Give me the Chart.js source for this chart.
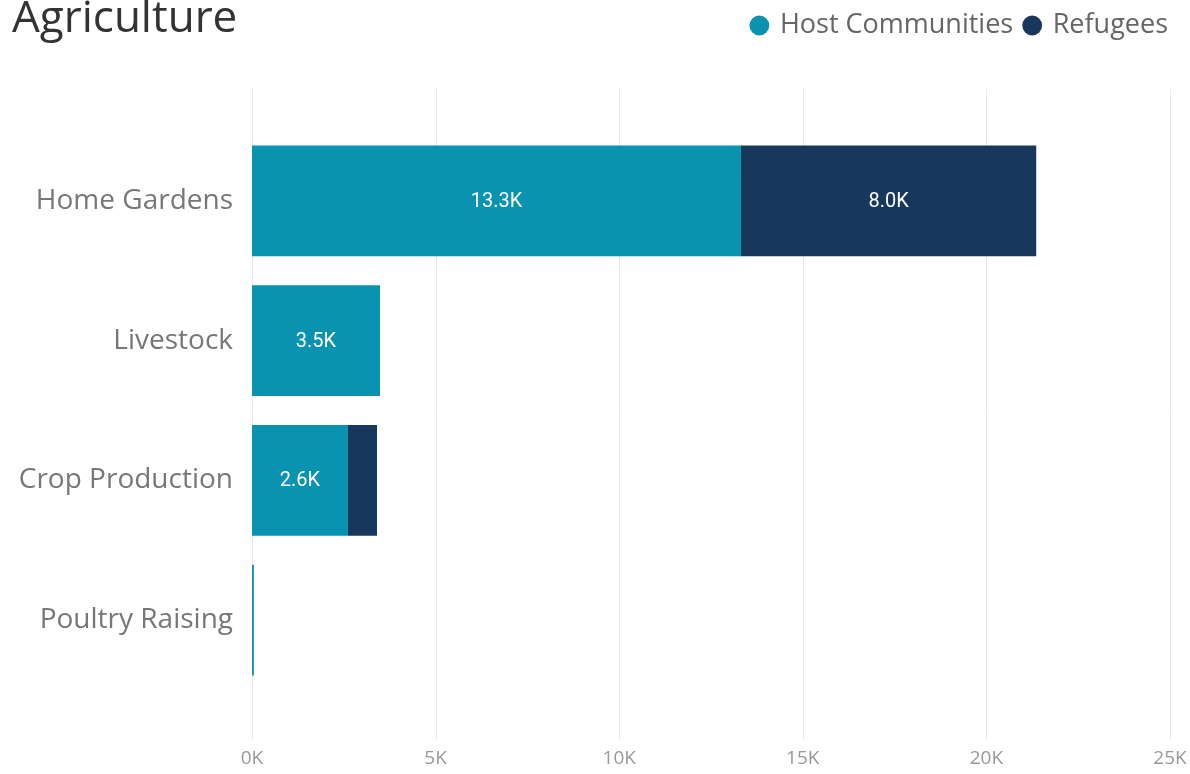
<!DOCTYPE html>
<html>
<head>
<meta charset="utf-8">
<script src="https://cdn.jsdelivr.net/npm/chart.js@4.4.1/dist/chart.umd.min.js"></script>
<style>
  html, body { margin: 0; padding: 0; background: #fff; overflow: hidden; }
  #wrap { position: relative; width: 1190px; height: 774px; }
  #title {
    position: absolute; left: 12px; top: -15px;
    font-family: "Open Sans", "Noto Sans", sans-serif;
    font-size: 44px; color: #333; white-space: nowrap;
  }
</style>
</head>
<body>
<div id="wrap">
  <canvas id="agriChart" width="1190" height="774"></canvas>
  <div id="title">Agriculture</div>
</div>
<script>
const categories = ['Home Gardens', 'Livestock', 'Crop Production', 'Poultry Raising'];
const hostCommunities = [13317, 3486, 2614, 50];
const refugees = [8040, 0, 790, 0];
const xTicks = [0, 5000, 10000, 15000, 20000, 25000];

const fmtK = v => (v / 1000).toFixed(1) + 'K';

// leave a gap between the legend and the bars
const legendGap = {
    id: 'legendGap',
    beforeInit(chart) {
        const fit = chart.legend.fit;
        chart.legend.fit = function () {
            fit.call(this);
            this.height += 82;
        };
    }
};

// grid lines that run past the bar area, like the original
const longGrid = {
    id: 'longGrid',
    beforeDatasetsDraw(chart) {
        const ctx = chart.ctx;
        const x = chart.scales.x;
        ctx.save();
        ctx.strokeStyle = '#e9e9e9';
        ctx.lineWidth = 1;
        xTicks.forEach(t => {
            const px = Math.round(x.getPixelForValue(t)) + 0.5;
            ctx.beginPath();
            ctx.moveTo(px, chart.chartArea.top - 42);
            ctx.lineTo(px, chart.chartArea.bottom + 50);
            ctx.stroke();
        });
        ctx.restore();
    }
};

// value labels inside the bars when they fit
const barLabels = {
    id: 'barLabels',
    afterDatasetsDraw(chart) {
        const ctx = chart.ctx;
        ctx.save();
        ctx.font = '20px Roboto, "Noto Sans", sans-serif';
        ctx.fillStyle = '#fff';
        ctx.textAlign = 'center';
        ctx.textBaseline = 'middle';
        chart.data.datasets.forEach((ds, i) => {
            chart.getDatasetMeta(i).data.forEach((bar, j) => {
                const v = ds.data[j];
                if (!v || Math.abs(bar.x - bar.base) < 60) return;
                ctx.fillText(fmtK(v), (bar.x + bar.base) / 2, bar.y + 1);
            });
        });
        ctx.restore();
    }
};

const ctx = document.getElementById('agriChart').getContext('2d');
new Chart(ctx, {
    type: 'bar',
    data: {
        labels: categories,
        datasets: [{
            label: 'Host Communities',
            data: hostCommunities,
            backgroundColor: '#0993b0',
            borderWidth: 0
        }, {
            label: 'Refugees',
            data: refugees,
            backgroundColor: '#18375d',
            borderWidth: 0
        }]
    },
    options: {
        indexAxis: 'y',
        responsive: false,
        animation: false,
        layout: { padding: { top: 0, right: 10, bottom: 0, left: 12 } },
        categoryPercentage: 1,
        barPercentage: 0.793,
        scales: {
            x: {
                stacked: true,
                min: 0,
                max: 25000,
                afterBuildTicks: s => { s.ticks = xTicks.map(v => ({ value: v })); },
                afterFit: s => { s.height = 84; s.paddingLeft = 0; s.paddingRight = 20; },
                grid: { display: false },
                border: { display: false },
                ticks: {
                    padding: 49,
                    maxRotation: 0,
                    color: '#999',
                    font: { family: 'Open Sans, Noto Sans, sans-serif', size: 19 },
                    callback: v => (v / 1000) + 'K'
                }
            },
            y: {
                stacked: true,
                afterFit: s => { s.width = 240; },
                grid: { display: false },
                border: { display: false },
                ticks: {
                    padding: 11,
                    color: '#777',
                    font: { family: 'Open Sans, Noto Sans, sans-serif', size: 28 }
                }
            }
        },
        plugins: {
            legend: {
                position: 'top',
                align: 'end',
                labels: {
                    usePointStyle: true,
                    pointStyle: 'circle',
                    boxWidth: 14,
                    boxHeight: 14,
                    padding: 12,
                    color: '#666',
                    font: { family: 'Open Sans, Noto Sans, sans-serif', size: 27 }
                }
            },
            tooltip: { enabled: false }
        }
    },
    plugins: [legendGap, longGrid, barLabels]
});
</script>
</body>
</html>
